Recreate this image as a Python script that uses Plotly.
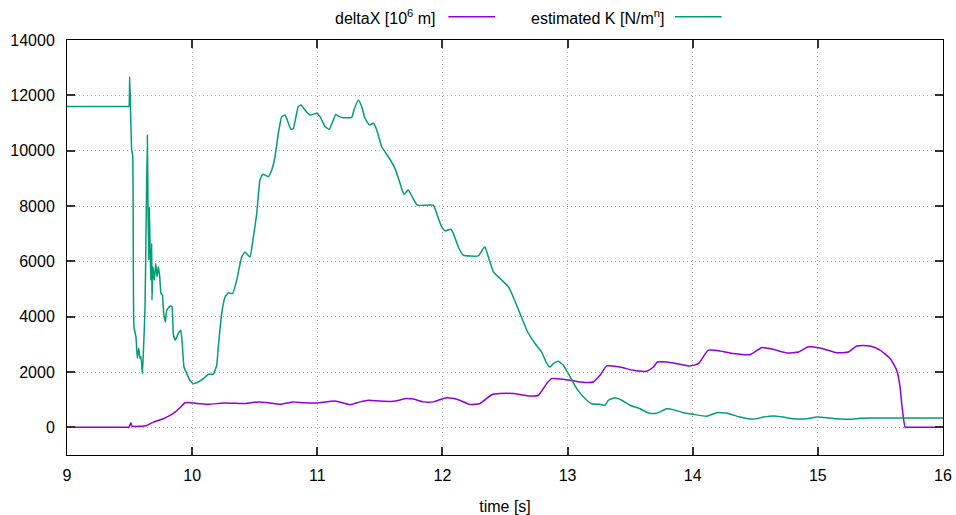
import plotly.graph_objects as go

# ---- data ----
k_time = [9.000, 9.250, 9.480, 9.490, 9.495, 9.501, 9.517, 9.525, 9.535, 9.551, 9.562, 9.573, 9.583, 9.591, 9.602, 9.610,
          9.623, 9.631, 9.642, 9.647, 9.653, 9.658, 9.669, 9.677, 9.679, 9.687, 9.698, 9.709, 9.719,
          9.730, 9.741, 9.751, 9.762, 9.773, 9.786, 9.797, 9.823, 9.839, 9.849, 9.865, 9.889, 9.909,
          9.919, 9.935, 9.957, 9.983, 10.009, 10.049, 10.089, 10.129, 10.169, 10.196, 10.209, 10.236,
          10.263, 10.289, 10.324, 10.356, 10.396, 10.422, 10.462, 10.489, 10.516, 10.542, 10.564,
          10.609, 10.636, 10.662, 10.689, 10.716, 10.742, 10.760, 10.790, 10.808, 10.830, 10.848,
          10.870, 10.902, 10.942, 10.995, 11.022, 11.062, 11.096, 11.123, 11.147, 11.176, 11.208,
          11.275, 11.293, 11.328, 11.355, 11.381, 11.416, 11.448, 11.475, 11.515, 11.568, 11.621,
          11.661, 11.693, 11.727, 11.759, 11.799, 11.927, 11.954, 11.994, 12.021, 12.066, 12.087,
          12.127, 12.167, 12.287, 12.327, 12.340, 12.367, 12.407, 12.460, 12.527, 12.566, 12.620,
          12.674, 12.740, 12.793, 12.828, 12.860, 12.886, 12.926, 12.966, 13.006, 13.073, 13.139,
          13.193, 13.259, 13.299, 13.326, 13.379, 13.433, 13.499, 13.575, 13.645, 13.699, 13.739,
          13.792, 13.845, 13.925, 14.005, 14.112, 14.192, 14.272, 14.378, 14.484, 14.564, 14.644,
          14.724, 14.804, 14.911, 14.991, 15.071, 15.151, 15.257, 15.337, 15.443, 15.700, 16.000]
k_value = [11600, 11600, 11600, 11600, 11600, 12670, 10020, 9840, 3630, 3270, 2500, 2860, 2500, 2550, 1940, 2670,
           4230, 6880, 10560, 8090, 6040, 7970, 5320, 6650, 4590, 5800, 5320, 5920, 5440,
           5800, 5440, 4840, 4780, 4110, 3810, 4230, 4380, 4350, 3390, 3150, 3390, 3510,
           3150, 2180, 1940, 1700, 1580, 1640, 1760, 1920, 1920, 2240, 2900, 4110,
           4710, 4860, 4840, 5320, 6160, 6340, 6160, 6880, 7730, 8940, 9150,
           9060, 9300, 9780, 10630, 11230, 11290, 11110, 10770, 10800, 11230, 11590,
           11650, 11470, 11290, 11350, 11230, 10870, 10770, 11050, 11310, 11230, 11190,
           11200, 11470, 11830, 11590, 11170, 10930, 10990, 10750, 10140, 9780, 9360,
           8820, 8420, 8580, 8330, 8030, 8030, 7730, 7250, 7100, 7160, 7010,
           6520, 6220, 6200, 6470, 6520, 6160, 5620, 5380, 5080, 4710, 4110,
           3510, 3030, 2720, 2360, 2180, 2300, 2390, 2240, 1940, 1400, 1040,
           850, 830, 800, 980, 1070, 980, 800, 680, 520, 500, 560,
           670, 640, 530, 470, 400, 530, 520, 370, 290, 370, 410,
           370, 310, 310, 370, 350, 310, 290, 330, 340, 340, 340]

dx_time = [9.000, 9.250, 9.477, 9.495, 9.511, 9.519, 9.637, 9.690, 9.770, 9.823, 9.863, 9.903, 9.943, 9.969,
           10.036, 10.129, 10.249, 10.329, 10.422, 10.529, 10.609, 10.702, 10.808, 10.888, 10.995,
           11.142, 11.261, 11.341, 11.408, 11.501, 11.607, 11.715, 11.767, 11.847, 11.927, 11.967,
           12.034, 12.127, 12.220, 12.300, 12.394, 12.460, 12.567, 12.700, 12.766, 12.833, 12.873,
           12.966, 13.073, 13.153, 13.206, 13.259, 13.313, 13.419, 13.526, 13.632, 13.686, 13.718,
           13.792, 13.899, 13.978, 14.045, 14.125, 14.218, 14.325, 14.458, 14.551, 14.644, 14.751,
           14.844, 14.924, 15.017, 15.151, 15.244, 15.311, 15.417, 15.497, 15.577, 15.630, 15.657,
           15.670, 15.697, 15.705, 15.720, 15.850, 16.000]
dx_value = [0, 0, 0, 0, 170, 40, 70, 190, 310, 430, 550, 710, 890, 900,
            860, 830, 880, 870, 860, 920, 890, 830, 920, 890, 880,
            950, 820, 920, 980, 950, 940, 1040, 1020, 920, 920, 980,
            1070, 1000, 830, 860, 1180, 1220, 1220, 1130, 1160, 1580, 1760,
            1740, 1660, 1620, 1640, 1880, 2220, 2180, 2060, 2030, 2180, 2360,
            2360, 2280, 2220, 2300, 2790, 2760, 2670, 2630, 2880, 2820, 2690,
            2720, 2910, 2870, 2700, 2720, 2940, 2940, 2790, 2490, 2060, 1460,
            860, 0, 0, 0, 0, 0]

x_ticks = [9, 10, 11, 12, 13, 14, 15, 16]
y_ticks = [0, 2000, 4000, 6000, 8000, 10000, 12000, 14000]
series_names = ["deltaX [10<sup>6</sup> m]", "estimated K [N/m<sup>n</sup>]"]
colors = ["#9400d3", "#009e73"]

FONT = "Liberation Sans, Arial, sans-serif"

fig = go.Figure()
fig.add_trace(go.Scatter(x=dx_time, y=dx_value, mode="lines", name=series_names[0],
                         line=dict(color=colors[0], width=1.5, shape="spline", smoothing=0.5),
                         showlegend=False))
fig.add_trace(go.Scatter(x=k_time, y=k_value, mode="lines", name=series_names[1],
                         line=dict(color=colors[1], width=1.5, shape="spline", smoothing=0.4),
                         showlegend=False))

# gnuplot-style key: text then sample line
key = [
    (series_names[0], 0.4239, 0.4353, 0.4886, colors[0]),
    (series_names[1], 0.6834, 0.6941, 0.7474, colors[1]),
]
for txt, xr, l0, l1, col in key:
    fig.add_annotation(x=xr, y=1.0562, xref="paper", yref="paper", text=txt, showarrow=False,
                       xanchor="right", yanchor="middle", font=dict(size=16, color="#000000", family=FONT))
    fig.add_shape(type="line", xref="paper", yref="paper", x0=l0, x1=l1, y0=1.0562, y1=1.0562,
                  line=dict(color=col, width=1.5))

axis_common = dict(showline=True, linecolor="#000000", linewidth=1, mirror="allticks",
                   ticks="inside", ticklen=8, tickcolor="#333333", tickwidth=1.5,
                   showgrid=True, gridcolor="#b4b4b4", griddash="1px,3px", gridwidth=1,
                   zeroline=False, tickfont=dict(size=16, color="#000000", family=FONT))

fig.update_xaxes(range=[9, 16], tickvals=x_ticks, ticktext=[str(v) for v in x_ticks],
                 title=dict(text="time [s]", font=dict(size=16, color="#000000", family=FONT), standoff=17),
                 ticklabelstandoff=6, **axis_common)
fig.update_yaxes(range=[-1000, 14000], tickvals=y_ticks, ticktext=[str(v) for v in y_ticks],
                 ticklabelstandoff=8, **axis_common)

fig.update_layout(width=956, height=515, margin=dict(l=67, r=13, t=40, b=60, autoexpand=False),
                  plot_bgcolor="#ffffff", paper_bgcolor="#ffffff",
                  font=dict(family=FONT, size=16, color="#000000"))

fig.write_html("out.html")
